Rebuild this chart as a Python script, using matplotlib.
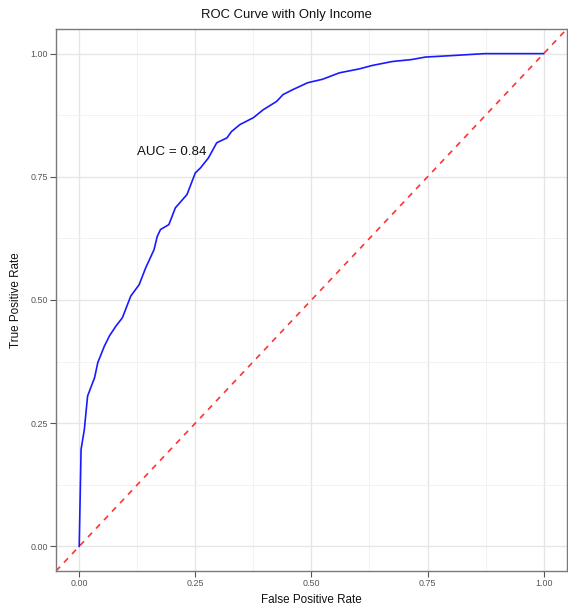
import numpy as np
import matplotlib.pyplot as plt
from matplotlib.ticker import MultipleLocator

plt.rcParams['font.family'] = ['Liberation Sans', 'DejaVu Sans']

# ROC points
fpr = [0.0, 0.002, 0.004, 0.011, 0.018, 0.026, 0.033, 0.040, 0.054, 0.065,
       0.079, 0.093, 0.111, 0.129, 0.143, 0.161, 0.168, 0.175, 0.193, 0.207,
       0.232, 0.250, 0.261, 0.278, 0.296, 0.318, 0.328, 0.346, 0.375, 0.396,
       0.425, 0.439, 0.460, 0.492, 0.524, 0.560, 0.603, 0.631, 0.674, 0.716,
       0.745, 0.802, 0.873, 0.950, 1.0]
tpr = [0.0, 0.100, 0.197, 0.237, 0.305, 0.325, 0.342, 0.373, 0.406, 0.427,
       0.447, 0.464, 0.508, 0.531, 0.565, 0.602, 0.629, 0.643, 0.653, 0.687,
       0.714, 0.758, 0.768, 0.788, 0.819, 0.829, 0.842, 0.856, 0.870, 0.886,
       0.903, 0.917, 0.927, 0.941, 0.948, 0.961, 0.969, 0.976, 0.984, 0.988,
       0.993, 0.996, 1.0, 1.0, 1.0]
ticks = [0.0, 0.25, 0.5, 0.75, 1.0]
tick_labels = ['0.00', '0.25', '0.50', '0.75', '1.00']
auc_text = 'AUC = 0.84'
title = 'ROC Curve with Only Income'

fig = plt.figure(figsize=(5.68, 6.08), dpi=100)
ax = fig.add_axes([0.0986, 0.0609, 0.8994, 0.8914])

# grid like theme_bw
ax.xaxis.set_minor_locator(MultipleLocator(0.125))
ax.yaxis.set_minor_locator(MultipleLocator(0.125))
ax.grid(which='major', color='#e6e6e6', linewidth=1.0)
ax.grid(which='minor', color='#f0f0f0', linewidth=0.6)
ax.set_axisbelow(True)

# reference diagonal spans the whole panel
ax.axline((0, 0), (1, 1), color='#ff3333', linestyle=(0, (3.5, 3.5)), linewidth=1.2)
ax.plot(fpr, tpr, color='#1a1aff', linewidth=1.2)

ax.text(0.2, 0.8, auc_text, ha='center', va='center', fontsize=9.6, color='#111111')

ax.set_xlim(-0.05, 1.05)
ax.set_ylim(-0.05, 1.05)
ax.set_xticks(ticks)
ax.set_xticklabels(tick_labels)
ax.set_yticks(ticks)
ax.set_yticklabels(tick_labels)
ax.tick_params(which='major', length=4, width=0.8, color='#555555',
               labelsize=6.4, labelcolor='#555555', pad=2)
ax.tick_params(which='minor', length=0)

for s in ax.spines.values():
    s.set_color('#7a7a7a')
    s.set_linewidth(1.0)

ax.set_xlabel('False Positive Rate', fontsize=8.4, color='#111111', labelpad=4)
ax.set_ylabel('True Positive Rate', fontsize=8.4, color='#111111', labelpad=6)
fig.text(0.504, 0.975, title, ha='center', va='center', fontsize=9.4, color='#111111')

plt.savefig('out.png', dpi=100)
plt.close()
